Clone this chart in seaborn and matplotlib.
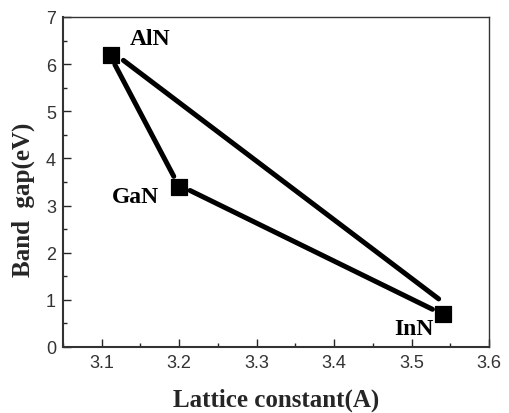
import matplotlib
matplotlib.use("Agg")
import matplotlib.pyplot as plt
import seaborn as sns
import pandas as pd

materials = ["AlN", "GaN", "InN"]
lattice = [3.112, 3.20, 3.54]
bandgap = [6.2, 3.4, 0.7]

# connecting segments as drawn (stop short of the markers)
seg_id = ["a", "a", "b", "b", "c", "c"]
seg_x = [3.117, 3.193, 3.128, 3.535, 3.214, 3.527]
seg_y = [5.99, 3.62, 6.08, 1.02, 3.32, 0.80]

label_x = [3.163, 3.143, 3.503]
label_y = [6.55, 3.2, 0.40]

sns.set_theme(style="white")
plt.rcParams["font.family"] = ["Liberation Sans", "DejaVu Sans"]

fig = plt.figure(figsize=(5.10, 4.14), dpi=100)
ax = fig.add_axes([63/510, 1 - 348/414, (489-63)/510, (348-18)/414])

segs = pd.DataFrame({"seg": seg_id, "x": seg_x, "y": seg_y})
sns.lineplot(data=segs, x="x", y="y", units="seg", estimator=None, sort=False,
             color="black", linewidth=3.6, ax=ax, legend=False)
pts = pd.DataFrame({"x": lattice, "y": bandgap, "m": materials})
sns.scatterplot(data=pts, x="x", y="y", marker="s", s=120, color="black",
                edgecolor="black", ax=ax, legend=False, zorder=5)

for m, lx, ly in zip(materials, label_x, label_y):
    ax.text(lx, ly, m, ha="center", va="center", fontsize=17, fontweight="bold",
            family=["Liberation Serif"], color="black")

ax.set_xlim(3.05, 3.6)
ax.set_ylim(0, 7)
ax.set_xticks([3.1, 3.2, 3.3, 3.4, 3.5, 3.6])
ax.set_xticklabels(["3.1", "3.2", "3.3", "3.4", "3.5", "3.6"])
ax.set_xticks([3.05, 3.15, 3.25, 3.35, 3.45, 3.55], minor=True)
ax.set_yticks(range(0, 8))
ax.set_yticks([0.5 + i for i in range(7)], minor=True)
ax.tick_params(axis="both", which="major", direction="in", length=6, width=1,
               labelsize=13, labelcolor="#333333", bottom=True, left=True, pad=5)
ax.tick_params(axis="both", which="minor", direction="in", length=3, width=1,
               bottom=True, left=True)
for sp in ax.spines.values():
    sp.set_color("#333333")
    sp.set_linewidth(1.0)
ax.spines["bottom"].set_linewidth(1.5)
ax.spines["left"].set_linewidth(1.5)

ax.set_xlabel("Lattice constant(A)", fontsize=18, fontweight="bold",
              family=["Liberation Serif"], labelpad=12)
ax.set_ylabel("Band  gap(eV)", fontsize=18, fontweight="bold",
              family=["Liberation Serif"])
ax.yaxis.set_label_coords(-0.066, 0.45)

fig.savefig("out.png", dpi=100)
